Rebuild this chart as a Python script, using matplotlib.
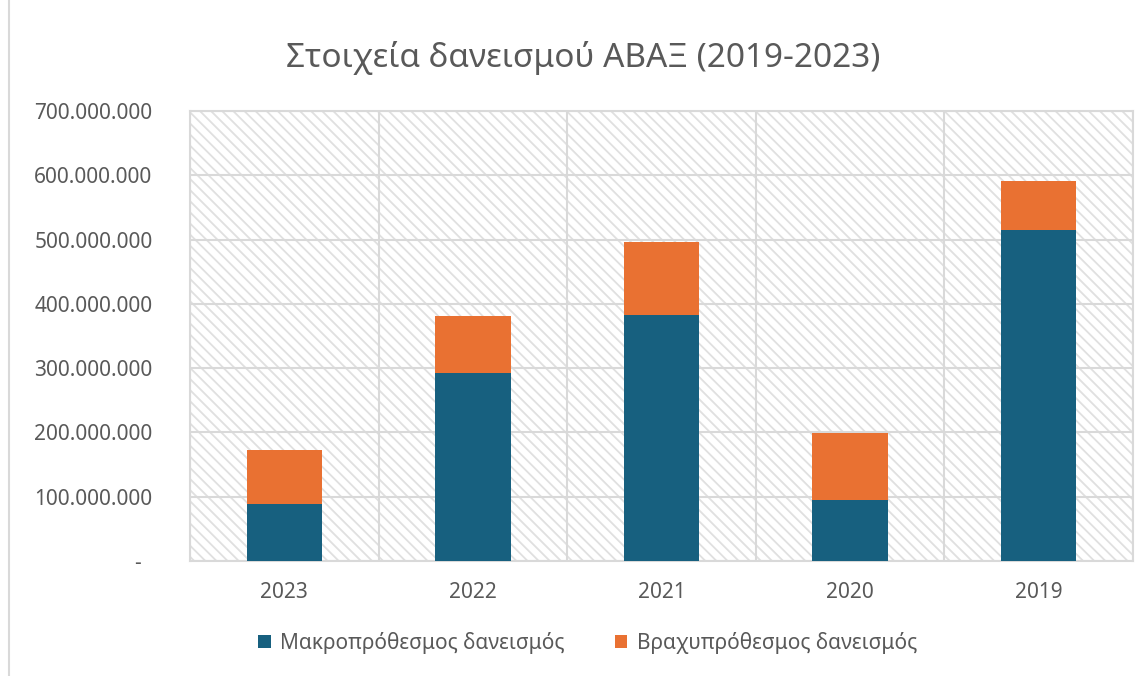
import numpy as np
import matplotlib
matplotlib.use("Agg")
import matplotlib.pyplot as plt
from matplotlib.patches import Rectangle
from matplotlib.ticker import FuncFormatter, FixedLocator

years = ['2023', '2022', '2021', '2020', '2019']
long_term = [88.7e6, 292.4e6, 382.7e6, 94.9e6, 514.9e6]
short_term = [84.0e6, 88.6e6, 113.3e6, 104.1e6, 76.1e6]
series_names = ['Μακροπρόθεσμος δανεισμός', 'Βραχυπρόθεσμος δανεισμός']
title = 'Στοιχεία δανεισμού ΑΒΑΞ (2019-2023)'

blue = '#17607f'
orange = '#e97132'
grid_col = '#d9d9d9'
text_col = '#595959'

plt.rcParams['font.family'] = ['Noto Sans', 'DejaVu Sans']
plt.rcParams['hatch.linewidth'] = 1.3
plt.rcParams['hatch.color'] = '#e0e0e0'

fig = plt.figure(figsize=(11.48, 6.76), dpi=100)
ax = fig.add_axes([0.1655, 0.1701, 0.8215, 0.6657])

# figure border
fig.patches.append(Rectangle((0.008, -0.01), 1.5, 1.5, transform=fig.transFigure,
                             fill=False, edgecolor=grid_col, linewidth=1.5))

# hatched plot area
ax.set_facecolor('white')
ax.add_patch(Rectangle((0, 0), 1, 1, transform=ax.transAxes, facecolor='white',
                       edgecolor='#e0e0e0', hatch='\\\\\\', linewidth=0, zorder=0))

x = np.arange(len(years))
ax.bar(x, long_term, width=0.4, color=blue, label=series_names[0], zorder=3)
ax.bar(x, short_term, width=0.4, bottom=long_term, color=orange, label=series_names[1], zorder=3)

ax.set_xlim(-0.5, len(years) - 0.5)
ax.set_ylim(0, 700e6)
ax.set_yticks(np.arange(0, 700e6 + 1, 100e6))

def fmt(v, pos):
    if v == 0:
        return '-  '
    return f'{int(v):,}'.replace(',', '.')

ax.yaxis.set_major_formatter(FuncFormatter(fmt))
ax.set_xticks(x)
ax.set_xticklabels(years)
ax.xaxis.set_minor_locator(FixedLocator(np.arange(-0.5, len(years), 1.0)))

ax.grid(axis='y', which='major', color=grid_col, linewidth=1.5, zorder=1)
ax.grid(axis='x', which='minor', color=grid_col, linewidth=1.5, zorder=1)
ax.set_axisbelow(True)

for s in ax.spines.values():
    s.set_color(grid_col)
    s.set_linewidth(1.5)

ax.tick_params(axis='both', which='both', length=0, labelsize=15, colors=text_col)
ax.tick_params(axis='y', pad=27)
ax.tick_params(axis='x', pad=15)

fig.suptitle(title, x=0.508, y=0.94, fontsize=24, color=text_col)

fig.legend(loc='lower center', bbox_to_anchor=(0.512, 0.005), ncol=2, frameon=False,
           fontsize=15, labelcolor=text_col, handlelength=0.6, handleheight=0.6,
           columnspacing=2.4, handletextpad=0.45)

fig.savefig('out.png', dpi=100)
